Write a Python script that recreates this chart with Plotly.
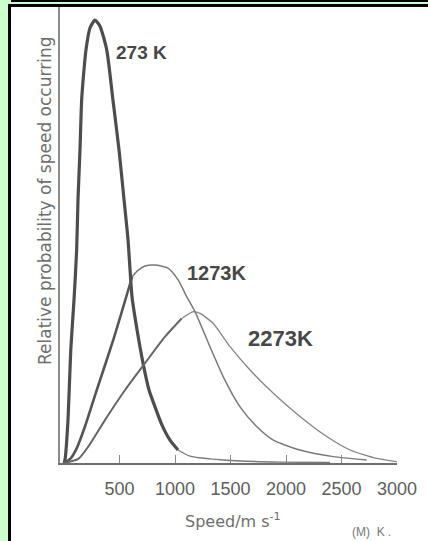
import plotly.graph_objects as go

# ---- data ----
speed_273 = [0, 9, 36, 61, 90, 114, 126, 144, 159, 180, 198, 234, 279, 324, 385, 441, 496, 541, 577,
             613, 658, 712, 766, 820, 883, 955, 1027, 1135, 1315, 1586, 1946, 2396]
prob_273 = [0, 0.7, 9.4, 24.8, 35.7, 46.7, 57.7, 68.6, 79.6, 86.2, 90.6, 95.4, 97.1, 95.8, 90.6, 79.6,
            68.6, 57.7, 48.9, 36.4, 29.2, 21.9, 16.0, 12.3, 8.3, 5.0, 2.85, 1.5, 0.9, 0.44, 0.2, 0.1]

speed_1273 = [0, 60, 114, 189, 295, 444, 615, 669, 730, 820, 940, 1030, 1105, 1180, 1315, 1435, 1586,
              1736, 1886, 2126, 2426, 2727]
prob_1273 = [0, 1.0, 3.2, 8.0, 16.0, 27.0, 40.9, 42.3, 43.2, 43.4, 42.7, 40.1, 36.5, 33.2, 25.5, 18.9,
             12.3, 8.0, 5.0, 2.85, 1.4, 0.66]

speed_2273 = [0, 129, 219, 369, 550, 730, 910, 1060, 1165, 1225, 1345, 1496, 1676, 1886, 2126, 2367,
              2577, 2817, 2997]
prob_2273 = [0, 0.9, 3.6, 9.4, 16.0, 21.9, 27.7, 31.7, 33.2, 32.8, 30.6, 25.5, 20.4, 15.3, 10.2,
             5.8, 2.85, 1.0, 0.3]

tick_vals = [500, 1000, 1500, 2000, 2500, 3000]
tick_text = ["500", "1000", "1500", "2000", "2500", "3000"]

labels = ["273 K", "1273K", "2273K"]
label_x = [694, 1378, 1946]
label_y = [90.1, 41.7, 27.4]
label_size = [19, 20, 22]

W, H = 428, 541
L, R, T, B = 60, 397, 7, 463  # plot area in pixels


def px(x):
    return (x - L) / (R - L)


def py(y):
    return (B - y) / (B - T)


fig = go.Figure()

# 273 K: thick main body, thin tail
split = 27
fig.add_trace(go.Scatter(x=speed_273[:split], y=prob_273[:split], mode="lines",
                         line=dict(color="#4d4d4d", width=3.2, shape="spline", smoothing=0.6),
                         showlegend=False, hoverinfo="skip"))
fig.add_trace(go.Scatter(x=speed_273[split - 1:], y=prob_273[split - 1:], mode="lines",
                         line=dict(color="#7a7a7a", width=1.4, shape="spline", smoothing=0.6),
                         showlegend=False, hoverinfo="skip"))
# 1273 K: rising part medium, falling part thin
s2 = 7
fig.add_trace(go.Scatter(x=speed_1273[:s2], y=prob_1273[:s2], mode="lines",
                         line=dict(color="#555555", width=2.6, shape="spline", smoothing=0.6),
                         showlegend=False, hoverinfo="skip"))
fig.add_trace(go.Scatter(x=speed_1273[s2 - 1:], y=prob_1273[s2 - 1:], mode="lines",
                         line=dict(color="#7a7a7a", width=1.5, shape="spline", smoothing=0.6),
                         showlegend=False, hoverinfo="skip"))
# 2273 K
s3 = 8
fig.add_trace(go.Scatter(x=speed_2273[:s3], y=prob_2273[:s3], mode="lines",
                         line=dict(color="#666666", width=2.0, shape="spline", smoothing=0.6),
                         showlegend=False, hoverinfo="skip"))
fig.add_trace(go.Scatter(x=speed_2273[s3 - 1:], y=prob_2273[s3 - 1:], mode="lines",
                         line=dict(color="#858585", width=1.3, shape="spline", smoothing=0.6),
                         showlegend=False, hoverinfo="skip"))

for t, x, y, s in zip(labels, label_x, label_y, label_size):
    fig.add_annotation(x=x, y=y, text="<b>" + t + "</b>", showarrow=False,
                       font=dict(family="Liberation Sans", size=s, color="#474747"))

# axis titles
fig.add_annotation(xref="paper", yref="paper", x=px(33), y=py(201), textangle=-90,
                   text="Relative probability of speed occurring", showarrow=False,
                   font=dict(family="DejaVu Sans", size=17, color="#6e6e6e"))
fig.add_annotation(xref="paper", yref="paper", x=px(233), y=py(533),
                   text="Speed/m s<sup>-1</sup>", showarrow=False,
                   font=dict(family="DejaVu Sans", size=16, color="#6e6e6e"))
fig.add_annotation(xref="paper", yref="paper", x=px(392), y=py(540), yanchor="bottom",
                   text="(M)  K .", showarrow=False, borderpad=0,
                   font=dict(family="Liberation Sans", size=12, color="#777777"))

shapes = [
    # white photo area
    dict(type="rect", xref="paper", yref="paper", x0=px(11), x1=px(W + 2), y0=py(7), y1=py(H + 2),
         fillcolor="white", line=dict(width=0), layer="below"),
    # top double border
    dict(type="rect", xref="paper", yref="paper", x0=px(11), x1=px(W + 2), y0=py(-1), y1=py(2),
         fillcolor="black", line=dict(width=0), layer="below"),
    dict(type="rect", xref="paper", yref="paper", x0=px(8), x1=px(W + 2), y0=py(4), y1=py(7),
         fillcolor="black", line=dict(width=0), layer="below"),
    # left border
    dict(type="rect", xref="paper", yref="paper", x0=px(8), x1=px(11), y0=py(4), y1=py(H + 2),
         fillcolor="black", line=dict(width=0), layer="below"),
]

fig.update_layout(
    width=W, height=H,
    margin=dict(l=L, r=W - R, t=T, b=H - B),
    paper_bgcolor="#ccffcc",
    plot_bgcolor="rgba(0,0,0,0)",
    shapes=shapes,
    showlegend=False,
    xaxis=dict(range=[-36, 3000], showgrid=False, zeroline=False, showline=True,
               linecolor="#6e6e6e", linewidth=1.6, ticks="inside", ticklen=8, tickwidth=1.2,
               tickcolor="#8a8a8a", tickvals=tick_vals, ticktext=tick_text,
               ticklabelstandoff=9,
               tickfont=dict(family="Liberation Sans", size=18, color="#5e5e5e")),
    yaxis=dict(range=[0, 100], showgrid=False, zeroline=False, showline=True,
               linecolor="#8a8a8a", linewidth=2, ticks="", showticklabels=False),
)

fig.write_html("out.html")
